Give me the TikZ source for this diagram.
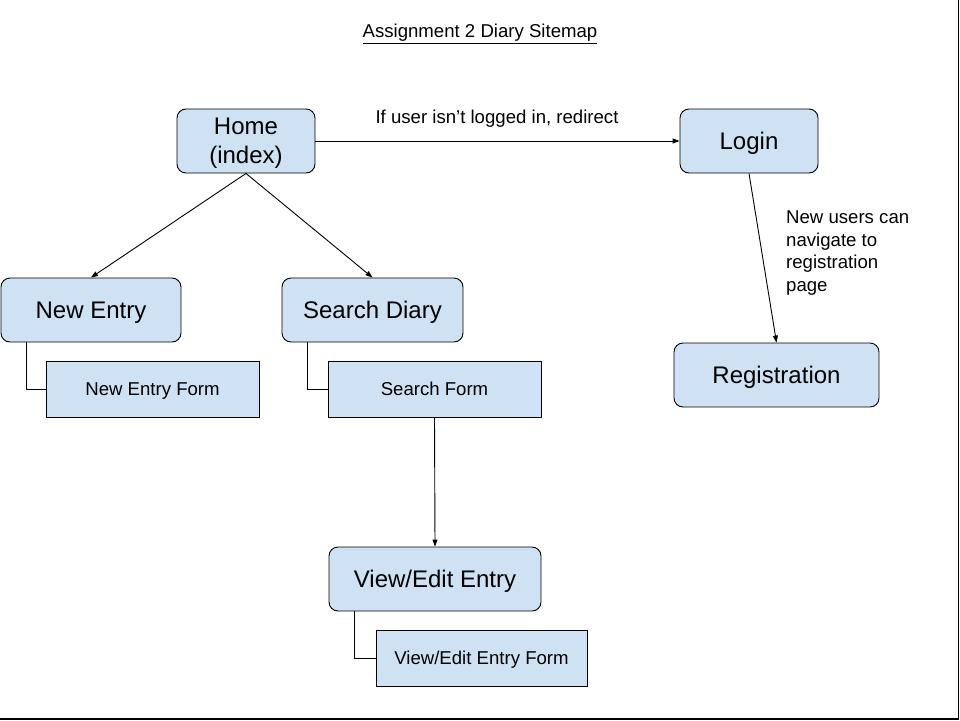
\documentclass[tikz,border=0pt]{standalone}
\usepackage{fontspec}
\setmainfont{Liberation Sans}
\usetikzlibrary{arrows.meta}
\definecolor{boxblue}{HTML}{CFE2F3}
\begin{document}
\begin{tikzpicture}[x=1pt,y=-1pt,
  pagebox/.style={draw=black, fill=boxblue, rounded corners=9pt, line width=0.9pt,
    font=\fontsize{24}{28.8}\selectfont, align=center, inner sep=0pt, minimum height=64pt,
    text height=21.7pt, text depth=5.1pt},
  formbox/.style={draw=black, fill=boxblue, line width=0.9pt,
    font=\fontsize{18.6}{22.7}\selectfont, inner sep=0pt, minimum height=56pt,
    text height=16.8pt, text depth=3.9pt},
  link/.style={draw=black, line width=0.9pt, -{Triangle[length=7pt,width=5pt]}},
  elbow/.style={draw=black, line width=0.9pt},
  lbl/.style={font=\fontsize{18.6}{22.7}\selectfont, inner sep=0pt}]
\useasboundingbox (0,0) rectangle (960,720);
\draw[line width=1.5pt] (958.5,0) -- (958.5,719) -- (0,719);

\node[lbl, anchor=base] (title) at (480,37.5) {\underline{Assignment 2 Diary Sitemap}};

\coordinate (ne1) at (26,342);
\coordinate (sd1) at (307,342);
\coordinate (ve1) at (354,611);

\node[formbox, minimum width=213pt] (newform) at (152.5,389) {New Entry Form};
\node[formbox, minimum width=213pt] (searchform) at (434.5,389) {Search Form};
\node[formbox, minimum width=211pt] (viewform) at (481.5,658) {View/Edit Entry Form};

\draw[elbow] (ne1) |- (newform.west);
\draw[elbow] (sd1) |- (searchform.west);
\draw[elbow] (ve1) |- (viewform.west);

\node[pagebox, minimum width=138pt, text height=, text depth=] (home) at (246,141)
  {\raisebox{-2pt}[\height][\depth]{\begin{tabular}{@{}c@{}}Home\\(index)\end{tabular}}};
\node[pagebox, minimum width=138pt] (login) at (749,141) {Login};
\node[pagebox, minimum width=180pt] (newentry) at (91,310) {New Entry};
\node[pagebox, minimum width=181pt] (search) at (372.5,310) {Search Diary};
\node[pagebox, minimum width=205pt] (registration) at (776.5,375) {Registration};
\node[pagebox, minimum width=212pt] (viewedit) at (435,579) {View/Edit Entry};

\draw[link] (home.south) -- (newentry.north);
\draw[link] (home.south) -- (search.north);
\draw[link] (home.east) -- (login.west);
\draw[link] (login.south) -- (registration.north);
\draw[link] (searchform.south) -- (viewedit.north);

\node[lbl, anchor=base] (redirlbl) at (497,123) {If user isn’t logged in, redirect};
\node[lbl, align=left, anchor=north west] (newlbl) at (786,210.5) {New users can\\navigate to\\registration\\page};
\end{tikzpicture}
\end{document}
